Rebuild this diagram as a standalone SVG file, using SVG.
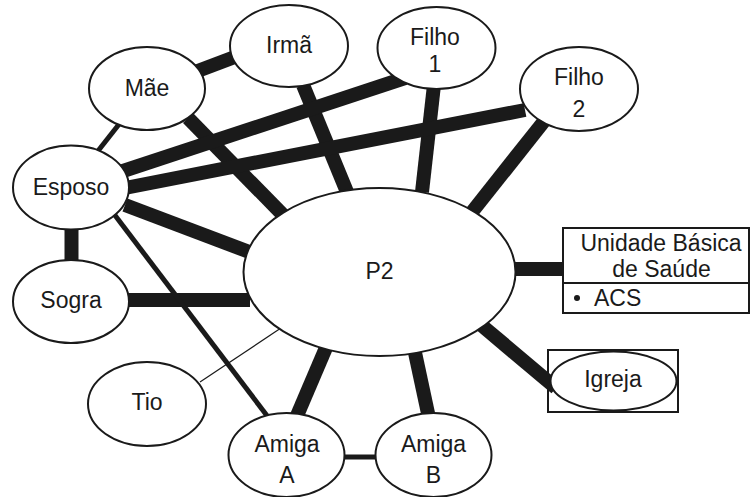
<svg xmlns="http://www.w3.org/2000/svg" width="752" height="497" viewBox="0 0 752 497">
  <style>
    .node { fill: #fff; stroke: #1a1a1a; stroke-width: 2; }
    .box { fill: #fff; stroke: #1a1a1a; stroke-width: 2; }
    .frame { fill: none; stroke: #1a1a1a; stroke-width: 2; }
    .label { font-family: "Liberation Sans", Arial, sans-serif; font-size: 23px; fill: #1a1a1a; text-anchor: middle; }
    .left { text-anchor: start; }
    .strong { stroke: #1a1a1a; stroke-width: 14; stroke-linecap: butt; fill: none; }
    .medium { stroke: #1a1a1a; stroke-width: 5; stroke-linecap: butt; fill: none; }
    .weak { stroke: #1a1a1a; stroke-width: 1.2; fill: none; }
  </style>
  <rect width="752" height="497" fill="#fff"/>

  <!-- links between people and services -->
  <g id="connectors">
    <line class="strong" x1="195" y1="72" x2="240" y2="55"/>
    <line class="medium" x1="120" y1="123" x2="94" y2="156"/>
    <line class="strong" x1="188" y1="118" x2="285" y2="217"/>
    <line class="strong" x1="303" y1="85" x2="347" y2="192"/>
    <line class="strong" x1="434" y1="85" x2="422" y2="192"/>
    <line class="strong" x1="545" y1="120" x2="472" y2="212"/>
    <line class="strong" x1="120" y1="172" x2="405" y2="78"/>
    <line class="strong" x1="125" y1="188" x2="525" y2="110"/>
    <line class="strong" x1="125" y1="205" x2="252" y2="253"/>
    <line class="strong" x1="71.5" y1="225" x2="71.5" y2="265"/>
    <line class="strong" x1="125" y1="300" x2="250" y2="300"/>
    <line class="medium" x1="114" y1="214" x2="268" y2="417"/>
    <line class="weak" x1="200" y1="382" x2="281" y2="328"/>
    <line class="strong" x1="296" y1="418" x2="328" y2="343"/>
    <line class="strong" x1="429" y1="418" x2="414" y2="348"/>
    <line class="medium" x1="340" y1="457" x2="380" y2="457"/>
    <line class="strong" x1="512" y1="269" x2="565" y2="269"/>
    <line class="strong" x1="480" y1="324" x2="556" y2="388"/>
  </g>

  <g id="mae">
    <ellipse class="node" cx="147" cy="88.5" rx="58" ry="41.5"/>
    <text class="label" x="147" y="96">Mãe</text>
  </g>
  <g id="irma">
    <ellipse class="node" cx="289" cy="46" rx="59" ry="41"/>
    <text class="label" x="289" y="53">Irmã</text>
  </g>
  <g id="filho1">
    <ellipse class="node" cx="436.5" cy="48" rx="59" ry="41"/>
    <text class="label" x="435" y="45">Filho</text>
    <text class="label" x="435" y="72">1</text>
  </g>
  <g id="filho2">
    <ellipse class="node" cx="579" cy="89" rx="59" ry="42"/>
    <text class="label" x="579" y="85">Filho</text>
    <text class="label" x="579" y="117">2</text>
  </g>
  <g id="esposo">
    <ellipse class="node" cx="71" cy="187.5" rx="58" ry="42"/>
    <text class="label" x="71" y="195">Esposo</text>
  </g>
  <g id="sogra">
    <ellipse class="node" cx="71" cy="301.5" rx="58" ry="41.5"/>
    <text class="label" x="71" y="308">Sogra</text>
  </g>
  <g id="p2">
    <ellipse class="node" cx="379.5" cy="272" rx="136" ry="84"/>
    <text class="label" x="379.5" y="279">P2</text>
  </g>
  <g id="tio">
    <ellipse class="node" cx="147" cy="404" rx="59" ry="42"/>
    <text class="label" x="147" y="410">Tio</text>
  </g>
  <g id="amiga-a">
    <ellipse class="node" cx="286.5" cy="455" rx="58" ry="42"/>
    <text class="label" x="287" y="452">Amiga</text>
    <text class="label" x="287" y="483">A</text>
  </g>
  <g id="amiga-b">
    <ellipse class="node" cx="433.5" cy="455" rx="58" ry="42"/>
    <text class="label" x="433.5" y="452">Amiga</text>
    <text class="label" x="433.5" y="483">B</text>
  </g>
  <g id="unidade">
    <rect class="box" x="563" y="228" width="186" height="85"/>
    <line class="frame" x1="563" y1="283" x2="749" y2="283"/>
    <text class="label" x="661" y="251">Unidade Básica</text>
    <text class="label" x="661.5" y="277">de Saúde</text>
    <circle cx="577" cy="298" r="3" fill="#1a1a1a"/>
    <text class="label left" x="594" y="306">ACS</text>
  </g>
  <g id="igreja">
    <rect class="frame" x="548" y="350" width="130" height="62"/>
    <ellipse class="node" cx="613.5" cy="381" rx="63" ry="29.5"/>
    <text class="label" x="613" y="387">Igreja</text>
  </g>
</svg>
